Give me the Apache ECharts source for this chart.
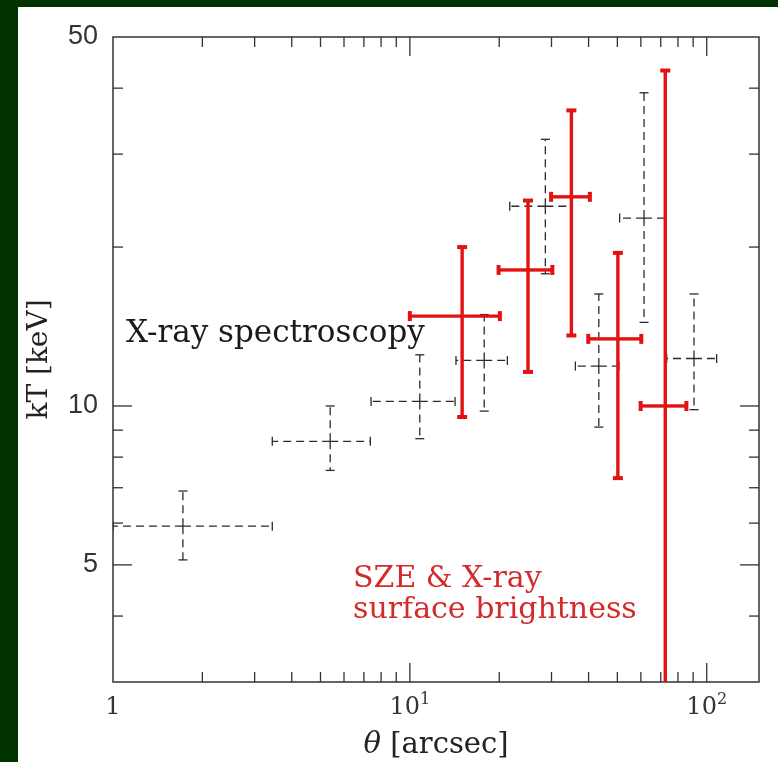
<!DOCTYPE html>
<html><head><meta charset="utf-8">
<script src="https://cdn.jsdelivr.net/npm/echarts@6/dist/echarts.min.js"></script>
<style>
html,body{margin:0;padding:0;background:#013300;width:778px;height:762px;overflow:hidden}
#chart{position:absolute;left:18px;top:7px;width:760px;height:755px;background:#fff}
</style></head><body><div id="chart"></div>
<script>
// X-ray spectroscopy (black dashed crosses)
const xrayTheta   = [1.72, 5.39, 10.8, 17.8, 28.6, 43.3, 61.5, 90.6];
const xrayThetaLo = [1.0, 3.44, 7.40, 14.3, 21.7, 36.1, 50.9, 73.3];
const xrayThetaHi = [3.44, 7.36, 14.2, 21.3, 35.2, 50.6, 72.2, 108];
const xrayKT      = [5.92, 8.57, 10.2, 12.2, 23.9, 11.9, 22.7, 12.3];
const xrayKTLo    = [5.11, 7.55, 8.67, 9.78, 17.8, 9.12, 14.4, 9.84];
const xrayKTHi    = [6.90, 10.0, 12.5, 14.9, 32.0, 16.3, 39.2, 16.3];

// SZE & X-ray surface brightness (red solid crosses)
const szeTheta   = [15.0, 25.0, 35.0, 50.2, 72.5];
const szeThetaLo = [10.0, 19.9, 29.9, 39.9, 59.9];
const szeThetaHi = [20.1, 30.2, 40.4, 60.2, 85.4];
const szeKT      = [14.8, 18.1, 24.9, 13.4, 10.0];
const szeKTLo    = [9.53, 11.6, 13.6, 7.30, 1.0];
const szeKTHi    = [20.0, 24.5, 36.3, 19.5, 43.2];

// axes
const X_MIN = 1, X_MAX = 150, Y_MIN = 3, Y_MAX = 50;
const xTickLabels = [1, 10, 100];
const yTickLabels = [5, 10, 50];
const xMajorTicks = [10, 100];
const xMinorTicks = [2, 3, 4, 5, 6, 7, 8, 9, 20, 30, 40, 50, 60, 70, 80, 90];
const yMajorTicks = [5, 10];
const yMinorTicks = [4, 6, 7, 8, 9, 20, 30, 40];

const SERIF = 'DejaVu Serif';
const chart = echarts.init(document.getElementById('chart'));

function rows(cols) { return cols[0].map((_, i) => cols.map(c => c[i])); }

function line(a, b, style) {
  return {type: 'line', shape: {x1: a[0], y1: a[1], x2: b[0], y2: b[1]}, style: style};
}

function crossRender(dashed) {
  return function (params, api) {
    const x = api.value(0), xl = api.value(1), xh = api.value(2);
    const y = api.value(3), yl = api.value(4), yh = api.value(5);
    const c = api.coord([x, y]);
    const l = api.coord([xl, y]), r = api.coord([xh, y]);
    const b = api.coord([x, yl]), t = api.coord([x, yh]);
    const color = dashed ? '#2b2b2b' : '#e21212';
    const lw = dashed ? 1.3 : 3.4;
    const bar = dashed ? {stroke: color, lineWidth: lw, lineDash: [8, 5], fill: null}
                       : {stroke: color, lineWidth: lw, fill: null};
    const capStyle = {stroke: color, lineWidth: dashed ? 1.3 : 4, fill: null};
    const cap = dashed ? 4.5 : 5;
    return {type: 'group', children: [
      line(c, l, bar), line(c, r, bar), line(c, t, bar), line(c, b, bar),
      line([l[0], l[1] - cap], [l[0], l[1] + cap], capStyle),
      line([r[0], r[1] - cap], [r[0], r[1] + cap], capStyle),
      line([t[0] - cap, t[1]], [t[0] + cap, t[1]], capStyle),
      line([b[0] - cap, b[1]], [b[0] + cap, b[1]], capStyle)
    ]};
  };
}

const tickStyle = {stroke: '#333', lineWidth: 1.3};
function xTickRender(params, api) {
  const v = api.value(0), len = api.value(1);
  const p0 = api.coord([v, Y_MIN]), p1 = api.coord([v, Y_MAX]);
  return {type: 'group', children: [
    line(p0, [p0[0], p0[1] - len], tickStyle),
    line(p1, [p1[0], p1[1] + len], tickStyle)
  ]};
}
function yTickRender(params, api) {
  const v = api.value(1), len = api.value(0);
  const p0 = api.coord([X_MIN, v]), p1 = api.coord([X_MAX, v]);
  return {type: 'group', children: [
    line(p0, [p0[0] + len, p0[1]], tickStyle),
    line(p1, [p1[0] - len, p1[1]], tickStyle)
  ]};
}

const xTickData = xMajorTicks.map(v => [v, 19]).concat(xMinorTicks.map(v => [v, 10]));
const yTickData = yMajorTicks.map(v => [19, v]).concat(yMinorTicks.map(v => [10, v]));

function fmtX(v) {
  const e = Math.round(Math.log10(v));
  if (Math.abs(Math.log10(v) - e) > 1e-6) return '';
  return e === 0 ? '1' : '10{s|' + e + '}';
}

chart.setOption({
  animation: false,
  grid: {left: 95, top: 30, right: 19, bottom: 80, show: true, borderColor: '#333', borderWidth: 1.5,
         backgroundColor: '#fff', containLabel: false, outerBoundsMode: 'none'},
  xAxis: {
    type: 'log', logBase: 10, min: X_MIN, max: X_MAX,
    axisLine: {show: false}, axisTick: {show: false}, splitLine: {show: false},
    axisLabel: {customValues: xTickLabels, formatter: fmtX,
      color: '#333', fontFamily: SERIF, fontSize: 24, lineHeight: 32, margin: 10,
      rich: {
        s: {fontFamily: SERIF, fontSize: 16, lineHeight: 16, verticalAlign: 'top', color: '#333'}
      }},
    name: '{i|\u03b8} [arcsec]', nameLocation: 'middle', nameGap: 49,
    nameTextStyle: {fontFamily: SERIF, fontSize: 29, color: '#222',
      rich: {i: {fontStyle: 'italic', fontFamily: SERIF, fontSize: 29, color: '#222'}}}
  },
  yAxis: {
    type: 'log', logBase: 10, min: Y_MIN, max: Y_MAX,
    axisLine: {show: false}, axisTick: {show: false}, splitLine: {show: false},
    axisLabel: {customValues: yTickLabels, color: '#333', fontFamily: 'Liberation Sans', fontSize: 27, margin: 15},
    name: 'kT [keV]', nameLocation: 'middle', nameGap: 59, nameRotate: 90,
    nameTextStyle: {fontFamily: SERIF, fontSize: 28, color: '#222'}
  },
  graphic: [
    {type: 'text', left: 108, top: 311, z: 10,
     style: {text: 'X-ray spectroscopy', font: '31px "DejaVu Serif"', fill: '#1a1a1a'}},
    {type: 'text', left: 335, top: 557, z: 10,
     style: {text: 'SZE & X-ray', font: '30px "DejaVu Serif"', fill: '#d42a2a'}},
    {type: 'text', left: 335, top: 588, z: 10,
     style: {text: 'surface brightness', font: '30px "DejaVu Serif"', fill: '#d42a2a'}}
  ],
  series: [
    {type: 'custom', name: 'xticks', data: xTickData, renderItem: xTickRender, clip: false, silent: true, z: 1,
     encode: {x: 0}},
    {type: 'custom', name: 'yticks', data: yTickData, renderItem: yTickRender, clip: false, silent: true, z: 1,
     encode: {y: 1}},
    {type: 'custom', name: 'X-ray spectroscopy', renderItem: crossRender(true), clip: true, z: 2,
     data: rows([xrayTheta, xrayThetaLo, xrayThetaHi, xrayKT, xrayKTLo, xrayKTHi]), encode: {x: 0, y: 3}},
    {type: 'custom', name: 'SZE & X-ray surface brightness', renderItem: crossRender(false), clip: true, z: 3,
     data: rows([szeTheta, szeThetaLo, szeThetaHi, szeKT, szeKTLo, szeKTHi]), encode: {x: 0, y: 3}}
  ]
});
</script></body></html>
